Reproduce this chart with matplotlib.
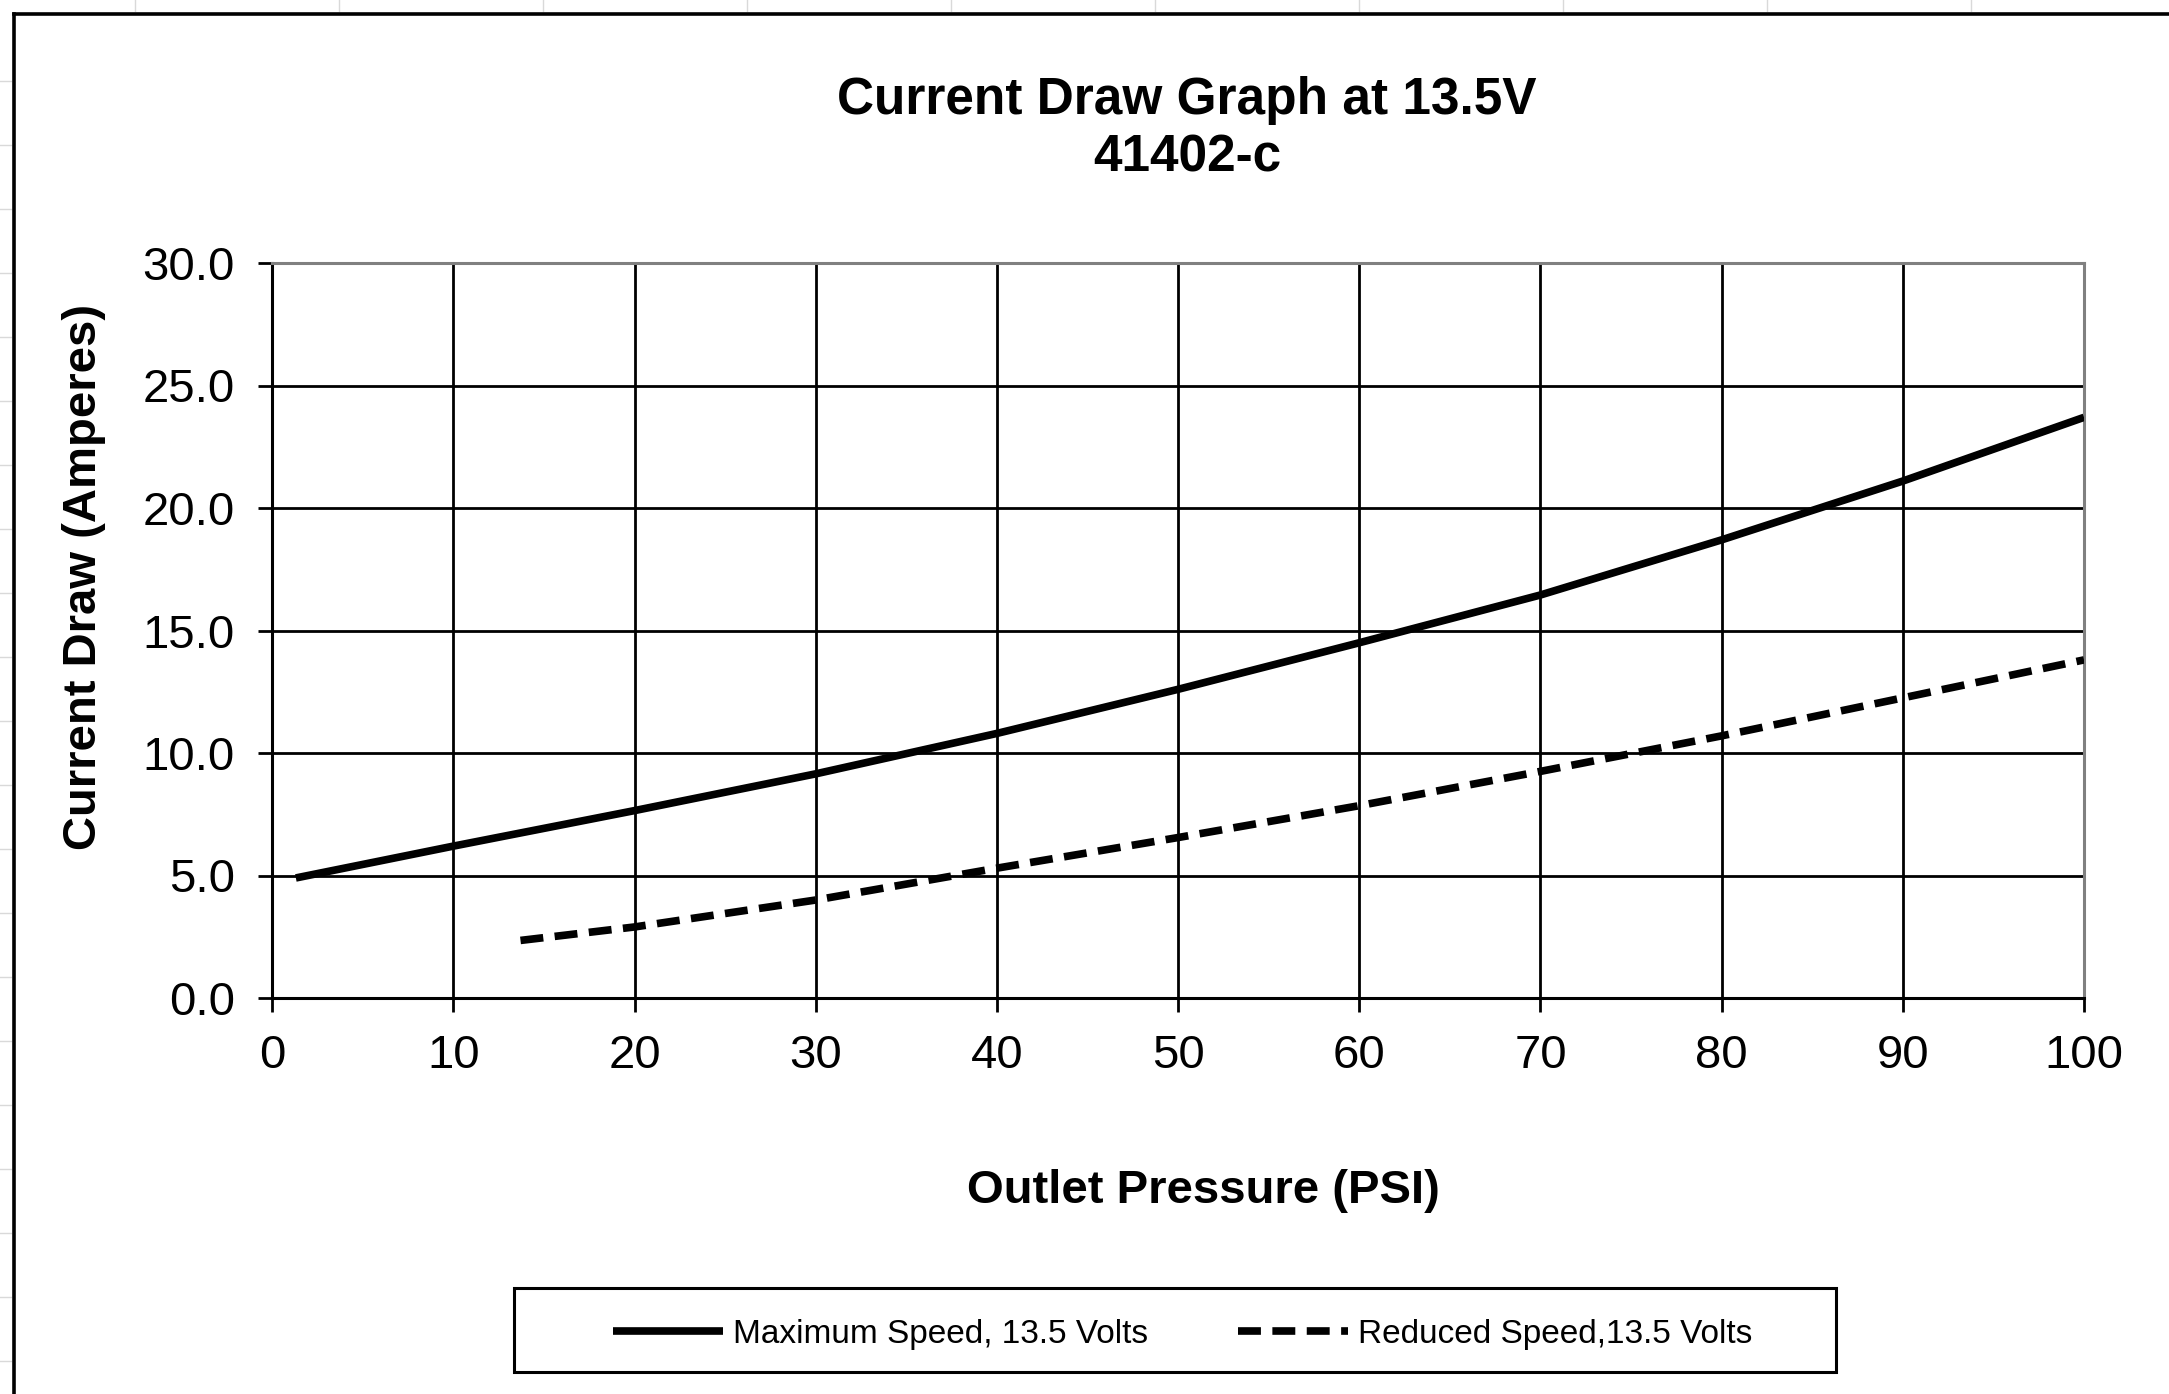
import matplotlib
matplotlib.use("Agg")
import matplotlib.pyplot as plt
from matplotlib.lines import Line2D
from matplotlib.patches import Rectangle
from matplotlib.ticker import FormatStrFormatter

plt.rcParams["font.family"] = ["Liberation Sans", "DejaVu Sans"]

# valori
pressione_max = [1.3, 10, 20, 30, 40, 50, 60, 70, 80, 90, 100]
corrente_max = [4.9, 6.2, 7.65, 9.15, 10.8, 12.6, 14.5, 16.45, 18.7, 21.1, 23.7]

pressione_rid = [13.7, 20, 30, 40, 50, 60, 70, 80, 90, 100]
corrente_rid = [2.35, 2.9, 4.0, 5.3, 6.55, 7.85, 9.25, 10.7, 12.25, 13.8]

etichetta_max = "Maximum Speed, 13.5 Volts"
etichetta_rid = "Reduced Speed,13.5 Volts"
x_ticks = list(range(0, 101, 10))
y_ticks = [0, 5, 10, 15, 20, 25, 30]

W, H = 2169, 1394
fig = plt.figure(figsize=(W / 100, H / 100), dpi=100)
fig.patch.set_facecolor("white")

# griglia del foglio di calcolo ai bordi (grigio chiaro)
for xc in range(135, W, 204):
    fig.add_artist(Line2D([xc / W, xc / W], [1, 1 - 11 / H], color="#d9d9d9", lw=1.0))
for yr in range(273 - 4 * 64, H, 64):
    if yr > 20:
        fig.add_artist(Line2D([0, 11 / W], [1 - yr / H, 1 - yr / H], color="#d9d9d9", lw=1.0))

# cornice del grafico
fig.add_artist(Line2D([14 / W, 14 / W], [0, 1 - 14 / H], color="black", lw=2.6))
fig.add_artist(Line2D([14 / W, 1], [1 - 14 / H, 1 - 14 / H], color="black", lw=2.6))

ax = fig.add_axes([272.3 / W, 1 - 998 / H, (2084 - 272.3) / W, (998 - 263) / H])

ax.plot(pressione_max, corrente_max, color="black", lw=5.5, solid_capstyle="butt",
        label=etichetta_max, zorder=3)
ax.plot(pressione_rid, corrente_rid, color="black", lw=5.5, dashes=(3.0, 1.5),
        dash_capstyle="butt", label=etichetta_rid, zorder=3)

ax.set_xlim(0, 100)
ax.set_ylim(0, 30)
ax.set_xticks(x_ticks)
ax.set_yticks(y_ticks)
ax.yaxis.set_major_formatter(FormatStrFormatter("%.1f"))
ax.grid(True, color="black", lw=2.0)
ax.set_axisbelow(True)

for lato in ("top", "right"):
    ax.spines[lato].set_color("#808080")
    ax.spines[lato].set_linewidth(2.2)
for lato in ("left", "bottom"):
    ax.spines[lato].set_color("black")
    ax.spines[lato].set_linewidth(2.2)

ax.tick_params(axis="both", direction="out", length=10, width=2.0, colors="black",
               labelsize=34)
ax.tick_params(axis="x", pad=16)
ax.tick_params(axis="y", pad=17)

# titolo ed etichette assi
fig.text(1187 / W, 1 - 114 / H, "Current Draw Graph at 13.5V", ha="center", va="baseline",
         fontsize=37, fontweight="bold")
fig.text(1187 / W, 1 - 171 / H, "41402-c", ha="center", va="baseline",
         fontsize=37, fontweight="bold")
fig.text(1203 / W, 1 - 1203 / H, "Outlet Pressure (PSI)", ha="center", va="baseline",
         fontsize=34, fontweight="bold")
fig.text(84 / W, 1 - 577 / H, "Current Draw (Amperes)", ha="center", va="center",
         rotation=90, fontsize=34, fontweight="bold")

# legenda con cornice
handles, labels = ax.get_legend_handles_labels()
fig.legend(handles, labels, loc="center", bbox_to_anchor=(1183 / W, 1 - 1334 / H),
           ncol=2, frameon=False, fontsize=24, handlelength=3.3, handletextpad=0.3,
           columnspacing=2.7)
fig.add_artist(Rectangle((514 / W, 1 - 1372 / H), (1836 - 514) / W, 84 / H,
                         transform=fig.transFigure, fill=False, edgecolor="black", lw=2.2))

fig.savefig("out.png", dpi=100)
